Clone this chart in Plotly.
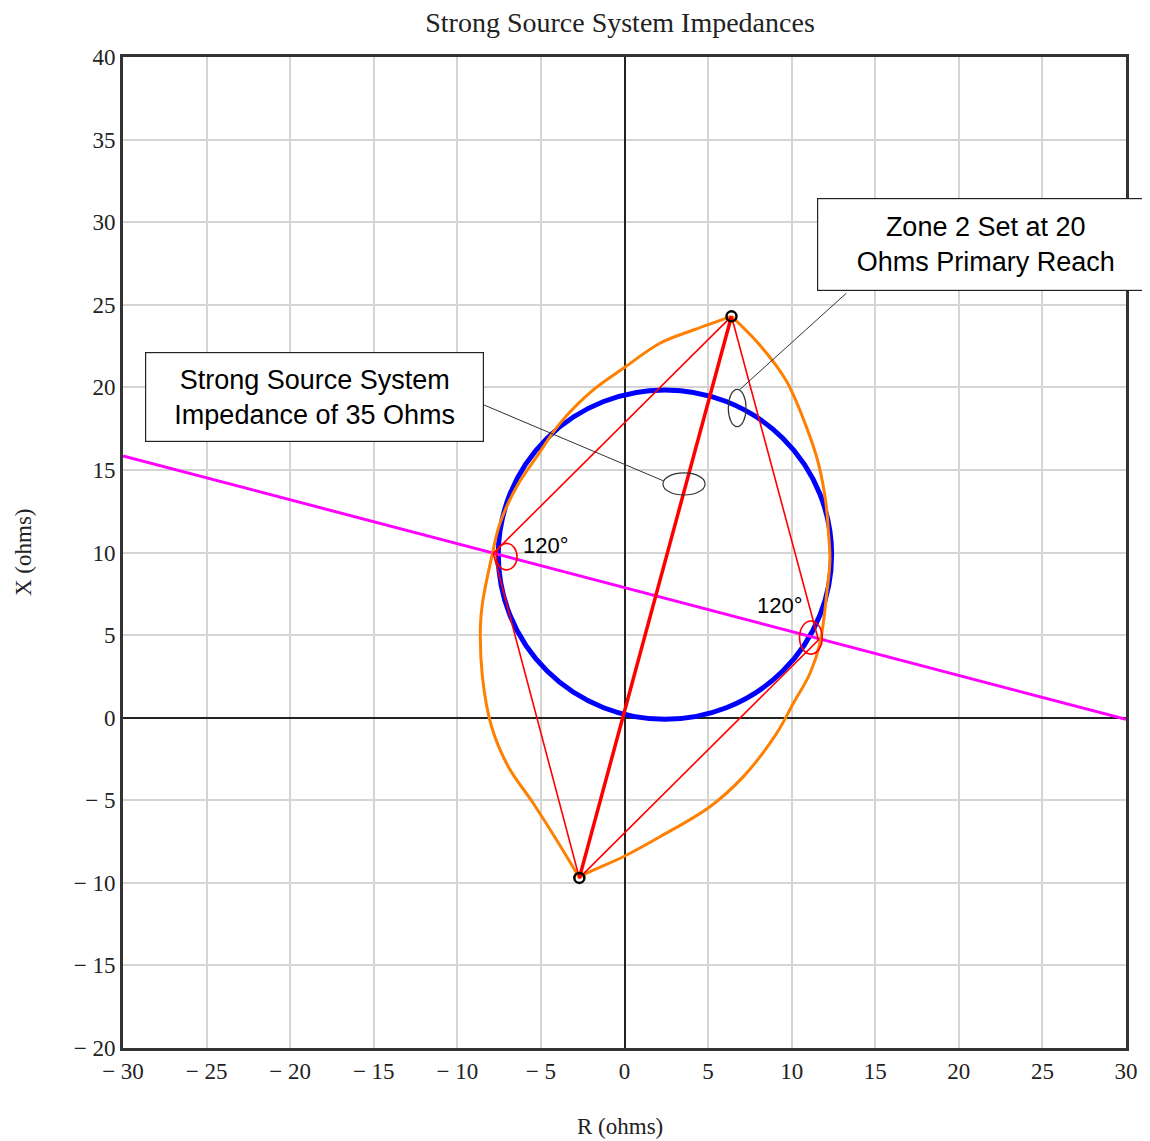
import plotly.graph_objects as go

# ---------------- data ----------------
# key points of the impedance diagram (R, X in ohms)
top_pt = (6.4, 24.3)
bottom_pt = (-2.7, -9.7)
left_pt = (-7.85, 9.95)
right_pt = (11.6, 4.7)

# orange 120-degree lens: left arc (top -> bottom)
orange_left_r = [6.4, 4.12, 2.12, -0.07, -1.87, -3.86, -5.25, -6.45, -7.45, -7.94,
                 -8.5, -8.62, -8.5, -7.95, -6.95, -5.46, -4.06, -2.7]
orange_left_x = [24.3, 23.47, 22.67, 21.15, 19.84, 17.82, 15.8, 13.98, 11.77, 9.75,
                 6.92, 5.51, 2.48, -0.55, -2.97, -5.18, -7.41, -9.7]
# orange lens: right arc (bottom -> top)
orange_right_r = [-2.7, -2.26, -0.07, 2.12, 5.11, 7.11, 9.1, 10.1, 11.1, 11.69,
                  12.1, 12.29, 12.19, 12.05, 11.6, 10.8, 9.65, 8.0, 6.4]
orange_right_x = [-9.7, -9.42, -8.42, -7.21, -5.39, -3.57, -0.95, 0.87, 2.69, 4.5,
                  7.53, 9.55, 11.36, 12.98, 15.4, 17.82, 20.44, 22.67, 24.3]

# magenta line end points
magenta_r = [-30, 30]
magenta_x = [15.85, -0.1]

# blue circle (center R, center X, radius R-direction, radius X-direction)
blue_circle = (2.42, 9.87, 9.97, 9.97)

# small red angle circles (center R, center X, half-width, half-height)
angle_circles = [(-7.05, 9.75, 0.62, 0.8), (11.15, 4.85, 0.68, 1.0)]
angle_labels = ["120°", "120°"]
angle_label_pos = [(-4.7, 10.45), (9.3, 6.82)]

# callouts
callout_texts = ["Strong Source System<br>Impedance of 35 Ohms",
                 "Zone 2 Set at 20<br>Ohms Primary Reach"]
callout_box_pos = [(-18.54, 19.41), (21.59, 28.62)]
callout_line_r = [(-8.4, 2.3), (13.27, 6.91)]
callout_line_x = [(18.93, 14.35), (25.7, 19.88)]
callout_ellipses = [(3.56, 14.15, 1.26, 0.67), (6.74, 18.75, 0.53, 1.13)]

x_ticks = list(range(-30, 31, 5))
y_ticks = list(range(-20, 41, 5))


def tick_text(v):
    return f"\u2212 {abs(v)}" if v < 0 else str(v)


SERIF = "Liberation Serif, Times New Roman, serif"
SANS = "Liberation Sans, Arial, sans-serif"

# ---------------- figure ----------------
fig = go.Figure()

# magenta line
fig.add_trace(go.Scatter(x=magenta_r, y=magenta_x, mode="lines",
                         line=dict(color="#ff00ff", width=3), hoverinfo="skip"))

# orange lens
fig.add_trace(go.Scatter(x=orange_left_r, y=orange_left_x, mode="lines",
                         line=dict(color="#ff8000", width=3, shape="spline"), hoverinfo="skip"))
fig.add_trace(go.Scatter(x=orange_right_r, y=orange_right_x, mode="lines",
                         line=dict(color="#ff8000", width=3, shape="spline"), hoverinfo="skip"))

# red quadrilateral
quad_r = [top_pt[0], left_pt[0], bottom_pt[0], right_pt[0], top_pt[0]]
quad_x = [top_pt[1], left_pt[1], bottom_pt[1], right_pt[1], top_pt[1]]
fig.add_trace(go.Scatter(x=quad_r, y=quad_x, mode="lines",
                         line=dict(color="#ff0000", width=1.6), hoverinfo="skip"))
# red diagonal
fig.add_trace(go.Scatter(x=[bottom_pt[0], top_pt[0]], y=[bottom_pt[1], top_pt[1]], mode="lines",
                         line=dict(color="#ff0000", width=3.5), hoverinfo="skip"))

# black end markers
fig.add_trace(go.Scatter(x=[top_pt[0], bottom_pt[0]], y=[top_pt[1], bottom_pt[1]], mode="markers",
                         marker=dict(symbol="circle-open", size=10, color="black",
                                     line=dict(width=2.5, color="black")),
                         hoverinfo="skip"))

# callout lines
for rr, xx in zip(callout_line_r, callout_line_x):
    fig.add_trace(go.Scatter(x=list(rr), y=list(xx), mode="lines",
                             line=dict(color="#333333", width=1), hoverinfo="skip"))

shapes = []
cx, cy, rx, ry = blue_circle
shapes.append(dict(type="circle", xref="x", yref="y", x0=cx - rx, x1=cx + rx,
                   y0=cy - ry, y1=cy + ry, line=dict(color="#0000ff", width=5), layer="between"))
for (ex, ey, hw, hh) in angle_circles:
    shapes.append(dict(type="circle", xref="x", yref="y", x0=ex - hw, x1=ex + hw,
                       y0=ey - hh, y1=ey + hh, line=dict(color="#ff0000", width=1.6)))
for (ex, ey, hw, hh) in callout_ellipses:
    shapes.append(dict(type="circle", xref="x", yref="y", x0=ex - hw, x1=ex + hw,
                       y0=ey - hh, y1=ey + hh, line=dict(color="#333333", width=1.2)))

annotations = []
for (ax_, ay_), txt in zip(angle_label_pos, angle_labels):
    annotations.append(dict(x=ax_, y=ay_, xref="x", yref="y", text=txt, showarrow=False,
                            font=dict(family=SANS, size=22, color="black")))
box_sizes = [(335, 86), (333, 89)]
for (bx, by), txt, (bw, bh) in zip(callout_box_pos, callout_texts, box_sizes):
    annotations.append(dict(x=bx, y=by, xref="x", yref="y", text=txt, showarrow=False,
                            font=dict(family=SANS, size=27, color="black"),
                            bgcolor="white", bordercolor="#222222", borderwidth=1.2,
                            width=bw, height=bh, align="center", valign="middle"))
# axis titles
annotations.append(dict(x=0, y=0.5, xref="paper", yref="paper", xshift=-114, text="X (ohms)",
                        textangle=-90, showarrow=False,
                        font=dict(family=SERIF, size=23, color="#222")))
annotations.append(dict(x=0.4955, y=0, xref="paper", yref="paper", yshift=-93, text="R (ohms)",
                        showarrow=False,
                        font=dict(family=SERIF, size=23, color="#222")))

W, H = 1142, 1133
fig.update_layout(
    width=W, height=H,
    margin=dict(l=115, r=24, t=49, b=93),
    plot_bgcolor="white", paper_bgcolor="white",
    showlegend=False,
    title=dict(text="Strong Source System Impedances", x=612 / W, xanchor="center",
               y=1 - 14 / H, yanchor="middle",
               font=dict(family=SERIF, size=28, color="#222")),
    shapes=shapes,
    annotations=annotations,
)
fig.update_xaxes(range=[-30, 30], tickvals=x_ticks, ticktext=[tick_text(v) for v in x_ticks],
                 showgrid=True, gridcolor="#d4d4d4", gridwidth=2,
                 zeroline=True, zerolinecolor="#222222", zerolinewidth=2,
                 showline=True, linecolor="#333333", linewidth=3, mirror=True,
                 ticks="", tickfont=dict(family=SERIF, size=23, color="#222"),
                 fixedrange=True)
fig.update_yaxes(range=[-20, 40], tickvals=y_ticks, ticktext=[tick_text(v) for v in y_ticks],
                 showgrid=True, gridcolor="#d4d4d4", gridwidth=2,
                 zeroline=True, zerolinecolor="#222222", zerolinewidth=2,
                 showline=True, linecolor="#333333", linewidth=3, mirror=True,
                 ticks="", tickfont=dict(family=SERIF, size=23, color="#222"),
                 fixedrange=True)

fig.write_html("out.html")
